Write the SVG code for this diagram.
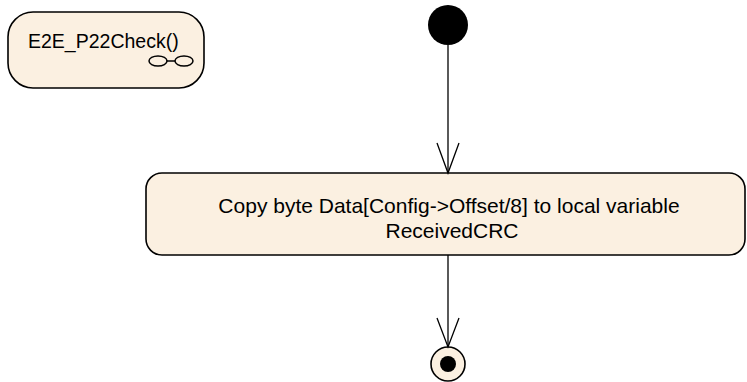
<svg xmlns="http://www.w3.org/2000/svg" width="747" height="382" viewBox="0 0 747 382">
<style>
.node{fill:#FBF0E1;stroke:#000;stroke-width:1.6}
.lbl{font-family:"Liberation Sans",Arial,sans-serif;fill:#000}
.edge{fill:none;stroke:#000;stroke-width:1.3}
</style>
<rect width="747" height="382" fill="#fff"/>
<g id="e2e_p22check">
<rect class="node" x="8" y="12" width="196" height="76" rx="25" ry="25"/>
<text class="lbl" x="28" y="48" font-size="19.5">E2E_P22Check()</text>
<ellipse cx="158" cy="61" rx="9" ry="5" fill="none" stroke="#000" stroke-width="1.5"/>
<ellipse cx="184" cy="61" rx="9" ry="5" fill="none" stroke="#000" stroke-width="1.5"/>
<line x1="167" y1="61" x2="175" y2="61" stroke="#000" stroke-width="1.5"/>
</g>
<g id="initial">
<circle cx="448" cy="25" r="20" fill="#000"/>
</g>
<g id="copy_action">
<rect class="node" x="146" y="173" width="599" height="82" rx="16" ry="16"/>
<text class="lbl" x="449" y="213" font-size="21" text-anchor="middle">Copy byte Data[Config-&gt;Offset/8] to local variable</text>
<text class="lbl" x="452" y="238" font-size="21" text-anchor="middle">ReceivedCRC</text>
</g>
<g id="final">
<circle cx="448" cy="364" r="17" fill="#FBF0E1" stroke="#000" stroke-width="1.6"/>
<circle cx="448" cy="364" r="8" fill="#000"/>
</g>
<g id="connectors">
<line class="edge" x1="448" y1="45" x2="448" y2="173"/>
<polyline class="edge" points="437,143 448,173 459,143"/>
<line class="edge" x1="448" y1="255" x2="448" y2="347"/>
<polyline class="edge" points="437,318 448,347 459,318"/>
</g>
</svg>
